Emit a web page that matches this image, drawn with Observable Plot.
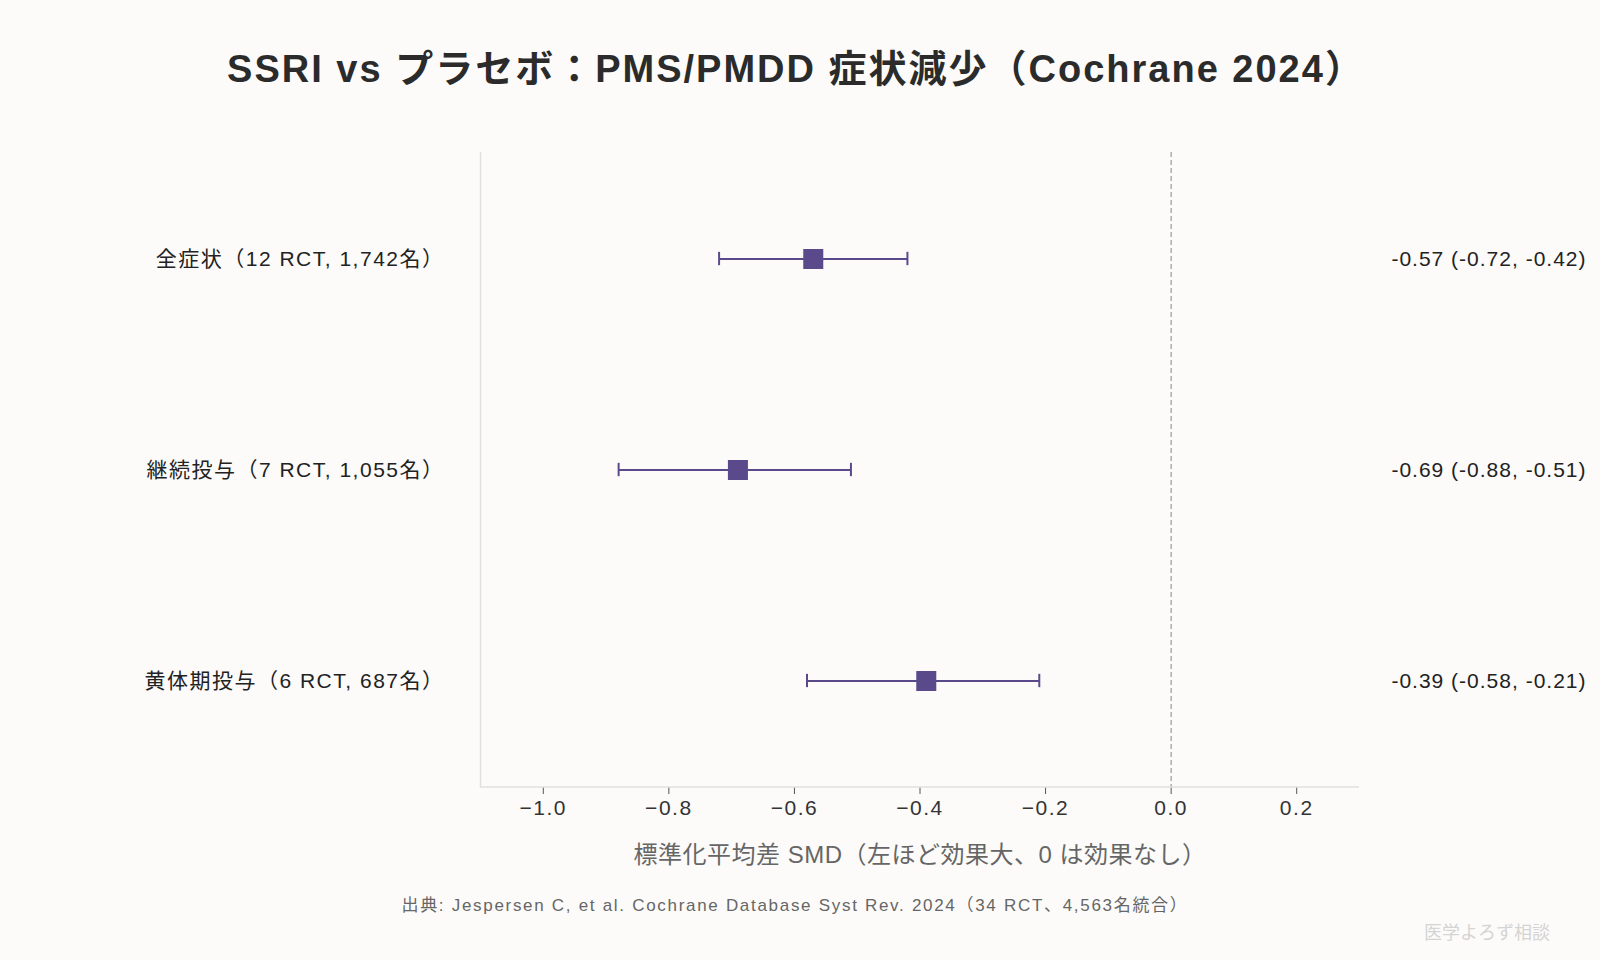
<!DOCTYPE html>
<html><head><meta charset="utf-8">
<script src="https://cdn.jsdelivr.net/npm/d3@7"></script>
<script src="https://cdn.jsdelivr.net/npm/@observablehq/plot@0.6"></script>
<style>
html,body{margin:0;padding:0;background:#fcfbf9;width:1600px;height:960px;overflow:hidden;font-family:"Liberation Sans","Noto Sans CJK JP",sans-serif;}
#title{position:absolute;left:0;top:0;width:1600px;height:130px;display:flex;align-items:center;justify-content:center;font-size:38px;font-weight:700;color:#2b2b2b;padding-right:8px;box-sizing:border-box;letter-spacing:2px;}
#chart{position:absolute;left:0;top:130px;}
#caption{position:absolute;left:0;top:891px;width:1600px;text-align:center;font-size:17px;color:#666;padding-right:10px;box-sizing:border-box;letter-spacing:1.7px;}
#mark{position:absolute;left:1424px;top:918px;font-size:18px;color:#d4d4d4;}
</style></head>
<body>
<div id="title">SSRI vs プラセボ：PMS/PMDD 症状減少（Cochrane 2024）</div>
<div id="chart"></div>
<div id="caption">出典: Jespersen C, et al. Cochrane Database Syst Rev. 2024（34 RCT、4,563名統合）</div>
<div id="mark">医学よろず相談</div>
<script>
const categories = ["全症状（12 RCT, 1,742名）", "継続投与（7 RCT, 1,055名）", "黄体期投与（6 RCT, 687名）"];
const smd = [-0.57, -0.69, -0.39];
const lower = [-0.72, -0.88, -0.58];
const upper = [-0.42, -0.51, -0.21];
const xTicks = [-1.0, -0.8, -0.6, -0.4, -0.2, 0.0, 0.2];
const xLabel = "標準化平均差 SMD（左ほど効果大、0 は効果なし）";

const data = categories.map((c, i) => ({
  cat: c, smd: smd[i], lo: lower[i], hi: upper[i],
  label: `${smd[i].toFixed(2)} (${lower[i].toFixed(2)}, ${upper[i].toFixed(2)})`
}));
const valueLabels = data.map(d => d.label);

const purple = "#5b4a8b";
const W = 1600, H = 750;
const mTop = 22, mBottom = 93, mLeft = 480, mRight = 241;
const bandH = (H - mTop - mBottom) / categories.length;
const FONT = '"Liberation Sans","Noto Sans CJK JP",sans-serif';

const chart = Plot.plot({
  width: W, height: H,
  marginTop: mTop, marginBottom: mBottom, marginLeft: mLeft, marginRight: mRight,
  style: {background: "transparent", fontFamily: FONT},
  x: {domain: [-1.1, 0.3], ticks: xTicks, tickFormat: d3.format(".1f")},
  y: {domain: categories, type: "band", padding: 0},
  marks: [
    Plot.ruleX([-1.1], {stroke: "#e2e0dd", strokeWidth: 1.5}),
    Plot.ruleX([0], {stroke: "#999", strokeDasharray: "5,3", strokeWidth: 1.2}),
    Plot.axisX({ticks: xTicks, tickFormat: d3.format(".1f"), tickSize: 7, tickPadding: 6, fontSize: 21, color: "#333", stroke: "#555", label: null}),
    Plot.text([xLabel], {frameAnchor: "bottom", dy: 75, fontSize: 24, fill: "#666"}),
    Plot.axisY({tickSize: 0, tickPadding: 36, fontSize: 21, fill: "#222", label: null}),
    Plot.link(data, {x1: "lo", x2: "hi", y1: "cat", y2: "cat", stroke: purple, strokeWidth: 2.2}),
    Plot.tickX(data, {x: "lo", y: "cat", stroke: purple, strokeWidth: 2, insetTop: bandH/2 - 7, insetBottom: bandH/2 - 7}),
    Plot.tickX(data, {x: "hi", y: "cat", stroke: purple, strokeWidth: 2, insetTop: bandH/2 - 7, insetBottom: bandH/2 - 7}),
    Plot.dot(data, {x: "smd", y: "cat", symbol: "square", r: 11.3, fill: purple, stroke: "none"}),
    Plot.text(data, {y: "cat", text: "label", frameAnchor: "right", textAnchor: "end", dx: 227, fontSize: 21, fill: "#222"})
  ]
});
document.getElementById("chart").appendChild(chart);
const svg = d3.select(chart);
svg.selectAll('g[aria-label="y-axis tick label"] text').attr("letter-spacing", "1.5px");
svg.selectAll('g[aria-label="x-axis tick label"] text').attr("letter-spacing", "1.5px");
svg.selectAll("text").filter(function() { return valueLabels.includes(this.textContent); }).attr("letter-spacing", "1px");
svg.selectAll("text").filter(function() { return this.textContent === xLabel; }).attr("letter-spacing", "0.5px");
svg.append("line").attr("x1", mLeft).attr("x2", W - mRight).attr("y1", H - mBottom).attr("y2", H - mBottom)
  .attr("stroke", "#e2e0dd").attr("stroke-width", 1.5);
</script>
</body></html>
